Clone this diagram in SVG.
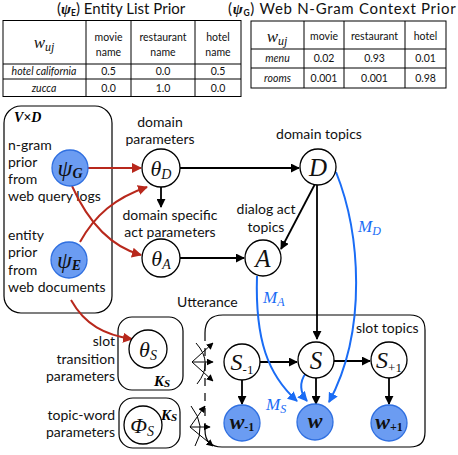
<svg xmlns="http://www.w3.org/2000/svg" width="458" height="455" viewBox="0 0 458 455">
<defs>
<style>
.t{font-family:Lato,"Open Sans","DejaVu Sans",sans-serif;fill:#111}
.lbl{font-size:14px}
.tb{font-size:10.5px}
.it{font-style:italic}
.m{font-family:"Liberation Serif","DejaVu Serif",serif;font-style:italic;fill:#111}
.cell{fill:none;stroke:#000;stroke-width:1}
.node{fill:#fff;stroke:#000;stroke-width:1.3}
.obs{fill:#6b9cf2;stroke:#2f6fe0;stroke-width:1.3}
.plate{fill:none;stroke:#000;stroke-width:1.2}
.e{fill:none;stroke:#000;stroke-width:1.8;marker-end:url(#ab)}
.r{fill:none;stroke:#b8281c;stroke-width:2;marker-end:url(#ar)}
.b{fill:none;stroke:#1a6cf5;stroke-width:2;marker-end:url(#abl)}
.f{fill:none;stroke:#000;stroke-width:1;marker-end:url(#af)}
.bt{fill:#1a6cf5}
</style>
<marker id="ab" viewBox="0 0 10 10" refX="9" refY="5" markerWidth="5" markerHeight="5" orient="auto" markerUnits="strokeWidth"><path d="M0 0L10 5L0 10z" fill="#000"/></marker>
<marker id="ar" viewBox="0 0 10 10" refX="9" refY="5" markerWidth="5" markerHeight="5" orient="auto" markerUnits="strokeWidth"><path d="M0 0L10 5L0 10z" fill="#b8281c"/></marker>
<marker id="abl" viewBox="0 0 10 10" refX="9" refY="5" markerWidth="5" markerHeight="5" orient="auto" markerUnits="strokeWidth"><path d="M0 0L10 5L0 10z" fill="#1a6cf5"/></marker>
<marker id="af" viewBox="0 0 10 10" refX="9" refY="5" markerWidth="7" markerHeight="7" orient="auto" markerUnits="strokeWidth"><path d="M0 0L10 5L0 10z" fill="#000"/></marker>
</defs>
<rect width="458" height="455" fill="#fff"/>

<!-- Table 1 -->
<g id="table-entity">
<text class="t" x="57" y="14" font-size="15">(<tspan class="m" font-weight="bold">ψ</tspan><tspan font-size="8.5" font-weight="bold" dy="2">E</tspan><tspan dy="-2">) Entity List Prior</tspan></text>
<rect class="cell" x="3" y="20.5" width="238" height="76"/>
<line class="cell" x1="3" y1="64" x2="241" y2="64"/>
<line class="cell" x1="3" y1="79" x2="241" y2="79"/>
<line class="cell" x1="86" y1="20.5" x2="86" y2="96.5"/>
<line class="cell" x1="131" y1="20.5" x2="131" y2="96.5"/>
<line class="cell" x1="195" y1="20.5" x2="195" y2="96.5"/>
<text class="m" x="44" y="48" font-size="17" text-anchor="middle">w<tspan font-size="12" dy="3">uj</tspan></text>
<g class="t tb" text-anchor="middle">
<text x="108.5" y="41">movie</text><text x="108.5" y="56">name</text>
<text x="163" y="41">restaurant</text><text x="163" y="56">name</text>
<text x="218" y="41">hotel</text><text x="218" y="56">name</text>
<text class="it" x="44" y="75">hotel california</text>
<text x="108.5" y="75">0.5</text><text x="163" y="75">0.0</text><text x="218" y="75">0.5</text>
<text class="it" x="44" y="92">zucca</text>
<text x="108.5" y="92">0.0</text><text x="163" y="92">1.0</text><text x="218" y="92">0.0</text>
</g>
</g>

<!-- Table 2 -->
<g id="table-ngram">
<text class="t" x="228" y="14" font-size="15" letter-spacing="0.7">(<tspan class="m" font-weight="bold">ψ</tspan><tspan font-size="8.5" font-weight="bold" dy="2">G</tspan><tspan dy="-2">) Web N-Gram Context Prior</tspan></text>
<rect class="cell" x="251" y="21" width="195" height="67"/>
<line class="cell" x1="251" y1="49" x2="446" y2="49"/>
<line class="cell" x1="251" y1="68" x2="446" y2="68"/>
<line class="cell" x1="304" y1="21" x2="304" y2="88"/>
<line class="cell" x1="344" y1="21" x2="344" y2="88"/>
<line class="cell" x1="405" y1="21" x2="405" y2="88"/>
<text class="m" x="277" y="42" font-size="17" text-anchor="middle">w<tspan font-size="12" dy="3">uj</tspan></text>
<g class="t tb" text-anchor="middle">
<text x="324" y="40">movie</text><text x="374.5" y="40">restaurant</text><text x="425.5" y="40">hotel</text>
<text class="it" x="277.5" y="62">menu</text>
<text x="324" y="62">0.02</text><text x="374.5" y="62">0.93</text><text x="425.5" y="62">0.01</text>
<text class="it" x="277.5" y="82">rooms</text>
<text x="324" y="82">0.001</text><text x="374.5" y="82">0.001</text><text x="425.5" y="82">0.98</text>
</g>
</g>

<!-- Plates -->
<g id="plate-VxD">
<rect class="plate" x="4" y="106" width="108" height="207" rx="17"/>
<text x="14" y="122" font-family="Liberation Serif,DejaVu Serif,serif" font-size="14" font-weight="bold" font-style="italic">V×D</text>
<g class="t lbl">
<text x="8" y="150">n-gram</text><text x="8" y="167">prior</text><text x="8" y="184">from</text><text x="8" y="201">web query logs</text>
<text x="8" y="240">entity</text><text x="8" y="257">prior</text><text x="8" y="275">from</text><text x="8" y="292">web documents</text>
</g>
</g>
<g id="plate-utterance">
<path class="plate" d="M205 333 Q205 315 223 315 H410 Q425 315 425 330 V432 Q425 447 410 447 H222 Q205 447 205 430"/>
<line x1="205" y1="333" x2="205" y2="430" stroke="#000" stroke-width="1.2" stroke-dasharray="8 7"/>
<text class="t lbl" x="177" y="307">Utterance</text>
<text class="t lbl" x="356" y="333">slot topics</text>
</g>
<g id="plate-thetaS">
<rect class="plate" x="118" y="317" width="65" height="73" rx="14"/>
<g class="t lbl" text-anchor="end"><text x="115" y="346">slot</text><text x="115" y="364">transition</text><text x="115" y="381">parameters</text></g>
</g>
<g id="plate-phiS">
<rect class="plate" x="119" y="398" width="61" height="50" rx="14"/>
<g class="t lbl" text-anchor="end"><text x="115" y="420">topic-word</text><text x="115" y="437">parameters</text></g>
</g>

<!-- Connectors -->
<g id="connectors">
<path class="e" d="M180 168 H299"/>
<path class="e" d="M161 187 V207"/>
<path class="e" d="M180 258 H244"/>
<path class="e" d="M315 184 L281 249"/>
<path class="e" d="M317 185 V339"/>
<path class="e" d="M260 362 H297"/>
<path class="e" d="M334 361 H370"/>
<path class="e" d="M242 380 V404"/>
<path class="e" d="M316 378 V404"/>
<path class="e" d="M389 378 V404"/>
<path class="r" d="M88 168 H141"/>
<path class="r" d="M80 242 C95 215 115 198 147 187"/>
<path class="r" d="M72 186 C85 215 105 245 141 255"/>
<path class="r" d="M71 300 C85 325 105 335 132 339"/>
<path class="b" d="M336 172 C360 232 368 330 329 402"/>
<path class="b" d="M257 276 C255 340 268 375 297 401"/>
<path class="b" d="M306 373 C299 382 300 393 307 401"/>
<text class="m bt" x="358" y="232" font-size="17" style="fill:#1a6cf5">M<tspan font-size="12" dy="3">D</tspan></text>
<text class="m bt" x="263" y="303" font-size="17" style="fill:#1a6cf5">M<tspan font-size="12" dy="3">A</tspan></text>
<text class="m bt" x="266" y="410" font-size="17" style="fill:#1a6cf5">M<tspan font-size="12" dy="3">S</tspan></text>
<!-- fans -->
<path class="f" d="M192 362 L213 343"/>
<path class="f" d="M192 362 L213 362"/>
<path class="f" d="M192 362 L213 381"/>
<path d="M196 343 Q214 363 197 384" fill="none" stroke="#000" stroke-width="1"/>
<path class="f" d="M190 427 L205 406"/>
<path class="f" d="M190 427 L210 427"/>
<path class="f" d="M190 427 L213 446"/>
<path d="M191 406 Q207 426 195 446" fill="none" stroke="#000" stroke-width="1"/>
</g>

<!-- Nodes -->
<g id="psiG"><circle class="obs" cx="70" cy="168" r="18"/><text class="m" x="70" y="176" font-size="24" text-anchor="middle">ψ<tspan font-size="14" font-weight="bold" dy="2">G</tspan></text></g>
<g id="psiE"><circle class="obs" cx="69" cy="260" r="18"/><text class="m" x="69" y="268" font-size="24" text-anchor="middle">ψ<tspan font-size="14" font-weight="bold" dy="2">E</tspan></text></g>
<g id="thetaD"><circle class="node" cx="161" cy="168" r="19"/><text class="m" x="161" y="176" font-size="22" text-anchor="middle">θ<tspan font-size="14" dy="3">D</tspan></text>
<text class="t lbl" x="160" y="127" text-anchor="middle">domain</text><text class="t lbl" x="160" y="144" text-anchor="middle">parameters</text></g>
<g id="thetaA"><circle class="node" cx="161" cy="258" r="19"/><text class="m" x="161" y="266" font-size="22" text-anchor="middle">θ<tspan font-size="14" dy="3">A</tspan></text>
<text class="t lbl" x="170" y="220" text-anchor="middle">domain specific</text><text class="t lbl" x="170" y="237" text-anchor="middle">act parameters</text></g>
<g id="D"><circle class="node" cx="318" cy="167" r="18"/><text class="m" x="318" y="176" font-size="25" text-anchor="middle">D</text>
<text class="t lbl" x="319" y="139" text-anchor="middle">domain topics</text></g>
<g id="A"><circle class="node" cx="263" cy="258" r="18"/><text class="m" x="263" y="267" font-size="25" text-anchor="middle">A</text>
<text class="t lbl" x="266" y="214" text-anchor="middle">dialog act</text><text class="t lbl" x="266" y="232" text-anchor="middle">topics</text></g>
<g id="thetaS"><circle class="node" cx="148" cy="349" r="19"/><text class="m" x="148" y="357" font-size="22" text-anchor="middle">θ<tspan font-size="14" dy="3">S</tspan></text>
<text x="154" y="386" font-family="Liberation Serif,DejaVu Serif,serif" font-size="15" font-weight="bold" font-style="italic">K<tspan font-size="11" dy="1">S</tspan></text></g>
<g id="phiS"><circle class="node" cx="143" cy="425" r="19"/><text class="m" x="142" y="433" font-size="22" text-anchor="middle">Φ<tspan font-size="14" dy="3">S</tspan></text>
<text x="161" y="420" font-family="Liberation Serif,DejaVu Serif,serif" font-size="15" font-weight="bold" font-style="italic">K<tspan font-size="11" dy="1">S</tspan></text></g>
<g id="S-1"><circle class="node" cx="242" cy="362" r="18"/><text class="m" x="242" y="370" font-size="24" text-anchor="middle">S<tspan font-size="13" font-style="normal" dy="4">-1</tspan></text></g>
<g id="S"><circle class="node" cx="316" cy="360" r="18"/><text class="m" x="316" y="369" font-size="25" text-anchor="middle">S</text></g>
<g id="S+1"><circle class="node" cx="389" cy="360" r="18"/><text class="m" x="389" y="368" font-size="24" text-anchor="middle">S<tspan font-size="13" font-style="normal" dy="4">+1</tspan></text></g>
<g id="w-1"><circle class="obs" cx="242" cy="423" r="18"/><text class="m" x="242" y="429" font-size="22" font-weight="bold" text-anchor="middle">w<tspan font-size="12" font-style="normal" dy="2">-1</tspan></text></g>
<g id="w"><circle class="obs" cx="315" cy="422" r="18"/><text class="m" x="315" y="428" font-size="22" font-weight="bold" text-anchor="middle">w</text></g>
<g id="w+1"><circle class="obs" cx="389" cy="423" r="18"/><text class="m" x="389" y="429" font-size="22" font-weight="bold" text-anchor="middle">w<tspan font-size="12" font-style="normal" dy="2">+1</tspan></text></g>
</svg>
